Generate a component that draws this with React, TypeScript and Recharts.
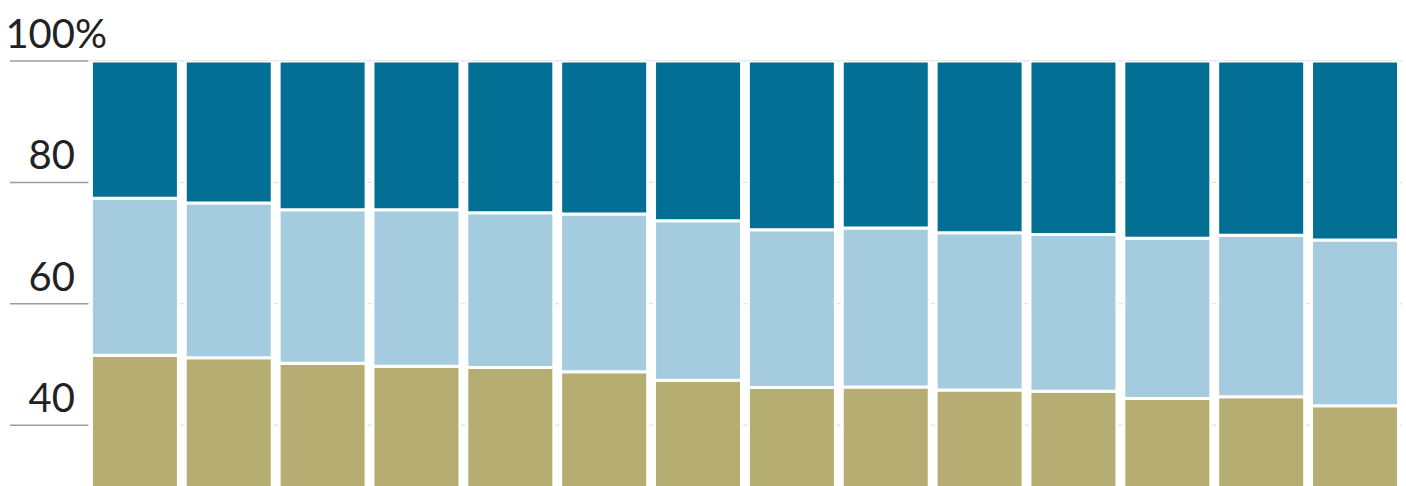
import React from 'react';
import { BarChart, Bar, XAxis, YAxis, CartesianGrid } from 'recharts';

// 14 columns, 100% stacked; the x labels are cut off in the source
const categories = ['1', '2', '3', '4', '5', '6', '7', '8', '9', '10', '11', '12', '13', '14'];

// bottom segment (olive)
const bottomShare = [51.5, 51.1, 50.2, 49.7, 49.5, 48.8, 47.4, 46.2, 46.3, 45.8, 45.6, 44.4, 44.7, 43.2];
// middle segment (light blue)
const middleShare = [25.9, 25.5, 25.3, 25.8, 25.5, 26.0, 26.3, 26.0, 26.2, 25.9, 25.8, 26.4, 26.6, 27.3];
// top segment (dark teal)
const topShare = [22.6, 23.4, 24.5, 24.5, 25.0, 25.2, 26.3, 27.8, 27.5, 28.3, 28.6, 29.2, 28.7, 29.5];

const yTicks = [40, 60, 80, 100];

const data = categories.map((cat, i) => ({
  cat,
  bottom: bottomShare[i],
  middle: middleShare[i],
  top: topShare[i],
}));

const COLORS = {
  top: '#036F95',
  middle: '#A4CBDE',
  bottom: '#B6AD73',
};

const labelFont = "Lato, 'Open Sans', sans-serif";

const YTick = ({ y, payload }: any) => {
  const isTop = payload.value === 100;
  return (
    <g>
      <line x1={10} x2={88} y1={y} y2={y} stroke="#9c9c9c" strokeWidth={1.5} />
      <text x={75} y={y - 13} textAnchor="end" fontSize={40} fontFamily={labelFont} fill="#222">
        {payload.value}
      </text>
      {isTop && (
        <text x={75} y={y - 13} textAnchor="start" fontSize={40} fontFamily={labelFont} fill="#222">
          %
        </text>
      )}
    </g>
  );
};

export default function App() {
  // the chart runs a bit below the window so the bars reach the bottom edge
  return (
    <div style={{ position: 'absolute', left: 0, top: 0, background: '#fff' }}>
      <BarChart
        width={1406}
        height={498}
        data={data}
        margin={{ top: 61, right: 4, bottom: 0, left: 0 }}
        barCategoryGap={3.4}
      >
        <CartesianGrid horizontal vertical={false} stroke="#d6d6d6" strokeWidth={1} />
        <XAxis dataKey="cat" hide />
        <YAxis
          type="number"
          domain={[28, 100]}
          allowDataOverflow
          ticks={yTicks}
          width={88}
          axisLine={false}
          tickLine={false}
          tick={<YTick />}
          interval={0}
        />
        <Bar dataKey="bottom" stackId="s" fill={COLORS.bottom} stroke="#fff" strokeWidth={3} isAnimationActive={false} />
        <Bar dataKey="middle" stackId="s" fill={COLORS.middle} stroke="#fff" strokeWidth={3} isAnimationActive={false} />
        <Bar dataKey="top" stackId="s" fill={COLORS.top} stroke="#fff" strokeWidth={3} isAnimationActive={false} />
      </BarChart>
    </div>
  );
}
